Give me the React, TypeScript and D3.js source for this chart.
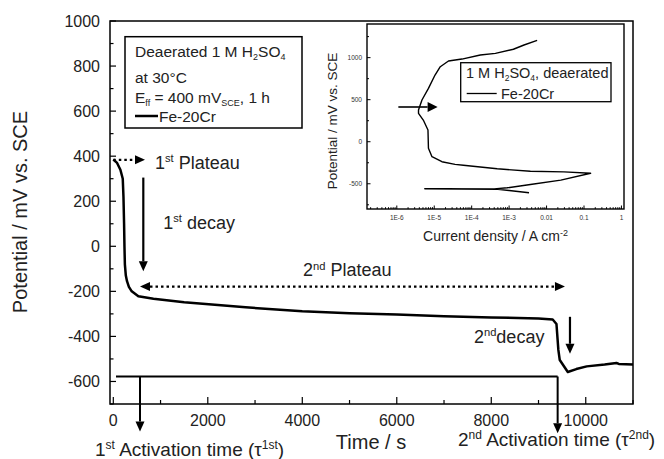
import * as d3 from "d3";

// main transient: time (s) vs potential (mV vs SCE)
const timeS = [0, 80, 150, 200, 215, 228, 236, 245, 265, 290, 330, 390, 530, 850, 1500, 2800, 4000, 5000, 6000, 7000, 8000, 9000, 9300, 9380, 9420, 9450, 9620, 9800, 10020, 10400, 10650, 10700, 11000];
const potentialMV = [385, 370, 340, 300, 220, 100, 0, -80, -130, -155, -180, -200, -222, -233, -248, -271, -288, -297, -303, -310, -316, -320, -325, -345, -460, -505, -558, -545, -533, -525, -518, -522, -525];

// inset polarization curve
const currentA = [3.4e-3, 1.0e-3, 5.0e-4, 5.6e-6, 4.0e-4, 8.9e-4, 3.7e-3, 2.4e-2, 0.15, 2.9e-2, 3.7e-3, 4.8e-4, 6.0e-5, 3.6e-5, 1.6e-5, 8.7e-6, 7.0e-6, 6.8e-6, 5.1e-6, 3.8e-6, 3.8e-6, 4.7e-6, 7.0e-6, 1.05e-5, 1.45e-5, 2.4e-5, 5.5e-5, 1.7e-4, 4.3e-4, 1.3e-3, 2.5e-3, 5.6e-3];
const insetPotential = [-607, -580, -566, -560, -561, -548, -508, -457, -375, -358, -351, -322, -280, -269, -238, -178, -78, 139, 258, 338, 377, 496, 635, 793, 892, 960, 983, 1032, 1051, 1100, 1150, 1205];

const xTicks = [0, 2000, 4000, 6000, 8000, 10000];
const yTicks = [-600, -400, -200, 0, 200, 400, 600, 800, 1000];
const insetXTicks = [1e-6, 1e-5, 1e-4, 1e-3, 1e-2, 1e-1, 1];
const insetXLabels = ["1E-6", "1E-5", "1E-4", "1E-3", "0.01", "0.1", "1"];
const insetYTicks = [-500, 0, 500, 1000];

const activationLevel = -578;
const tau1 = 565;
const tau2 = 9405;

const font = "'Liberation Sans', Arial, sans-serif";

const Arrow = ({ x1, y1, x2, y2, dash, sw = 2.2, hl = 10, hw = 4.5, both = false }) => {
  const len = Math.hypot(x2 - x1, y2 - y1);
  const ux = (x2 - x1) / len;
  const uy = (y2 - y1) / len;
  const head = (tx, ty, vx, vy) =>
    `${tx},${ty} ${tx - vx * hl - vy * hw},${ty - vy * hl + vx * hw} ${tx - vx * hl + vy * hw},${ty - vy * hl - vx * hw}`;
  return (
    <g>
      <line
        x1={both ? x1 + ux * hl : x1}
        y1={both ? y1 + uy * hl : y1}
        x2={x2 - ux * hl}
        y2={y2 - uy * hl}
        stroke="#000"
        strokeWidth={sw}
        strokeDasharray={dash}
      />
      <polygon points={head(x2, y2, ux, uy)} fill="#000" />
      {both && <polygon points={head(x1, y1, -ux, -uy)} fill="#000" />}
    </g>
  );
};

const Sup = ({ x, y, a, s, b, size = 18 }) => (
  <text x={x} y={y} fontSize={size} fill="#222">
    {a}
    <tspan dy={-size * 0.38} fontSize={size * 0.62}>{s}</tspan>
    <tspan dy={size * 0.38}>{b}</tspan>
  </text>
);

export default function App() {
  const W = 664;
  const H = 459;
  const m = { left: 110, right: 633, top: 21, bottom: 404 };

  const x = d3.scaleLinear().domain([-70, 11000]).range([m.left, m.right]);
  const y = d3.scaleLinear().domain([-700, 1000]).range([m.bottom, m.top]);

  const line = d3
    .line<number>()
    .x((_, i) => x(timeS[i]))
    .y((d) => y(d));

  // inset
  const ib = { left: 367, right: 624, top: 24, bottom: 209 };
  const ix = d3.scaleLog().domain([1.6e-7, 1.17]).range([ib.left, ib.right]);
  const iy = d3.scaleLinear().domain([-800, 1400]).range([ib.bottom, ib.top]);
  const insetLine = d3
    .line<number>()
    .x((d) => ix(d))
    .y((_, i) => iy(insetPotential[i]));

  const minorX = d3.range(0, 11001, 1000);
  const minorY = d3.range(-700, 1001, 100);
  const insetMinorX = d3.range(-7, 1).flatMap((e) =>
    d3.range(1, 10).map((k) => k * Math.pow(10, e)),
  ).filter((v) => v >= 1.6e-7 && v <= 1.17);
  const insetMinorY = d3.range(-750, 1400, 250);

  return (
    <svg
      width={W}
      height={H}
      style={{ position: "absolute", left: 0, top: 0, background: "#fff" }}
      fontFamily={font}
    >
      {/* main frame */}
      <rect
        x={m.left}
        y={m.top}
        width={m.right - m.left}
        height={m.bottom - m.top}
        fill="none"
        stroke="#000"
        strokeWidth={1.5}
      />
      {minorX.map((t) => (
        <line key={`mx${t}`} x1={x(t)} x2={x(t)} y1={m.bottom} y2={m.bottom - (t % 2000 === 0 ? 7 : 4)} stroke="#000" strokeWidth={1.2} />
      ))}
      {minorY.map((v) => (
        <line key={`my${v}`} x1={m.left} x2={m.left + (v % 200 === 0 ? 6 : 3.5)} y1={y(v)} y2={y(v)} stroke="#000" strokeWidth={1.2} />
      ))}
      {xTicks.map((t) => (
        <text key={`xt${t}`} x={x(t)} y={426} textAnchor="middle" fontSize={16} fill="#222">
          {t}
        </text>
      ))}
      {yTicks.map((v) => (
        <text key={`yt${v}`} x={100} y={y(v)} dy="0.36em" textAnchor="end" fontSize={16} fill="#222">
          {v}
        </text>
      ))}
      <text transform={`translate(27,212) rotate(-90)`} textAnchor="middle" fontSize={20} fill="#222">
        Potential / mV vs. SCE
      </text>
      <text x={x(5455)} y={449} textAnchor="middle" fontSize={20} fill="#222">
        Time / s
      </text>

      {/* transient */}
      <path d={line(potentialMV) ?? ""} fill="none" stroke="#000" strokeWidth={2.5} strokeLinejoin="round" />

      {/* activation time marks */}
      <line x1={x(57)} x2={x(tau2)} y1={y(activationLevel)} y2={y(activationLevel)} stroke="#000" strokeWidth={2} />
      <Arrow x1={x(tau1)} y1={y(activationLevel)} x2={x(tau1)} y2={y(-822)} sw={2} />
      <Arrow x1={x(tau2)} y1={y(activationLevel)} x2={x(tau2)} y2={y(-830)} sw={2} />

      {/* annotations */}
      <Arrow x1={x(0)} y1={y(384)} x2={x(671)} y2={y(384)} dash="2.5,3" />
      <Sup x={x(883)} y={y(342)} a="1" s="st" b=" Plateau" />
      <Arrow x1={x(635)} y1={y(305)} x2={x(635)} y2={y(-111)} />
      <Sup x={x(1056)} y={y(76)} a="1" s="st" b=" decay" />
      <Arrow x1={x(565)} y1={y(-179)} x2={x(9560)} y2={y(-179)} dash="2.5,3" both />
      <Sup x={x(4015)} y={y(-134)} a="2" s="nd" b=" Plateau" />
      <Arrow x1={x(9666)} y1={y(-313)} x2={x(9666)} y2={y(-477)} />
      <Sup x={x(7633)} y={y(-429)} a="2" s="nd" b="decay" />

      <text x={95} y={456} fontSize={19} fill="#222">
        1<tspan dy={-7} fontSize={12}>st</tspan>
        <tspan dy={7}> Activation time (τ</tspan>
        <tspan dy={-7} fontSize={12}>1st</tspan>
        <tspan dy={7}>)</tspan>
      </text>
      <text x={458} y={446} fontSize={19} fill="#222">
        2<tspan dy={-7} fontSize={12}>nd</tspan>
        <tspan dy={7}> Activation time (τ</tspan>
        <tspan dy={-7} fontSize={12}>2nd</tspan>
        <tspan dy={7}>)</tspan>
      </text>

      {/* main legend */}
      <rect x={125} y={36.7} width={177} height={91.3} fill="#fff" stroke="#000" strokeWidth={1.5} />
      <text x={135} y={57} fontSize={15.5} fill="#222">
        Deaerated 1 M H<tspan dy={3} fontSize={9}>2</tspan>
        <tspan dy={-3}>SO</tspan>
        <tspan dy={3} fontSize={9}>4</tspan>
      </text>
      <text x={135} y={83} fontSize={15.5} fill="#222">at 30°C</text>
      <text x={135} y={103} fontSize={15.5} fill="#222">
        E<tspan dy={3} fontSize={9}>ff</tspan>
        <tspan dy={-3}> = 400 mV</tspan>
        <tspan dy={3} fontSize={9}>SCE</tspan>
        <tspan dy={-3}>, 1 h</tspan>
      </text>
      <line x1={135} x2={158} y1={116} y2={116} stroke="#000" strokeWidth={2.5} />
      <text x={159} y={122} fontSize={15.5} fill="#222">Fe-20Cr</text>

      {/* inset */}
      <rect
        x={ib.left}
        y={ib.top}
        width={ib.right - ib.left}
        height={ib.bottom - ib.top}
        fill="#fff"
        stroke="#000"
        strokeWidth={1.4}
      />
      {insetMinorX.map((v, i) => {
        const major = Math.abs(Math.log10(v) - Math.round(Math.log10(v))) < 1e-6;
        return (
          <line key={`ix${i}`} x1={ix(v)} x2={ix(v)} y1={ib.bottom} y2={ib.bottom - (major ? 3.5 : 1.8)} stroke="#000" strokeWidth={1} />
        );
      })}
      {insetMinorY.map((v) => (
        <line key={`iy${v}`} x1={ib.left} x2={ib.left + (v % 500 === 0 ? 3.5 : 2)} y1={iy(v)} y2={iy(v)} stroke="#000" strokeWidth={1} />
      ))}
      {insetXTicks.map((v, i) => (
        <text key={`ixl${v}`} x={ix(v)} y={220} textAnchor="middle" fontSize={6.5} fill="#333">
          {insetXLabels[i]}
        </text>
      ))}
      {insetYTicks.map((v) => (
        <text key={`iyl${v}`} x={362} y={iy(v)} dy="0.35em" textAnchor="end" fontSize={6.5} fill="#333">
          {v}
        </text>
      ))}
      <text x={(ib.left + ib.right) / 2} y={241} textAnchor="middle" fontSize={14} fill="#222">
        Current density / A cm<tspan dy={-5} fontSize={9}>-2</tspan>
      </text>
      <text transform={`translate(337,121) rotate(-90)`} textAnchor="middle" fontSize={13.5} fill="#222">
        Potential / mV vs. SCE
      </text>
      <path d={insetLine(currentA) ?? ""} fill="none" stroke="#000" strokeWidth={1.4} strokeLinejoin="round" />
      <Arrow x1={ix(1.1e-6)} y1={iy(413)} x2={ix(1.23e-5)} y2={iy(413)} sw={1.6} hl={10} hw={5} />

      <rect x={460.7} y={62.7} width={150.3} height={39} fill="#fff" stroke="#000" strokeWidth={1.3} />
      <text x={466} y={78} fontSize={14.5} fill="#222">
        1 M H<tspan dy={3} fontSize={8.5}>2</tspan>
        <tspan dy={-3}>SO</tspan>
        <tspan dy={3} fontSize={8.5}>4</tspan>
        <tspan dy={-3}>, deaerated</tspan>
      </text>
      <line x1={466.7} x2={496.7} y1={93.5} y2={93.5} stroke="#000" strokeWidth={1.3} />
      <text x={501} y={99} fontSize={14.5} fill="#222">Fe-20Cr</text>
    </svg>
  );
}
